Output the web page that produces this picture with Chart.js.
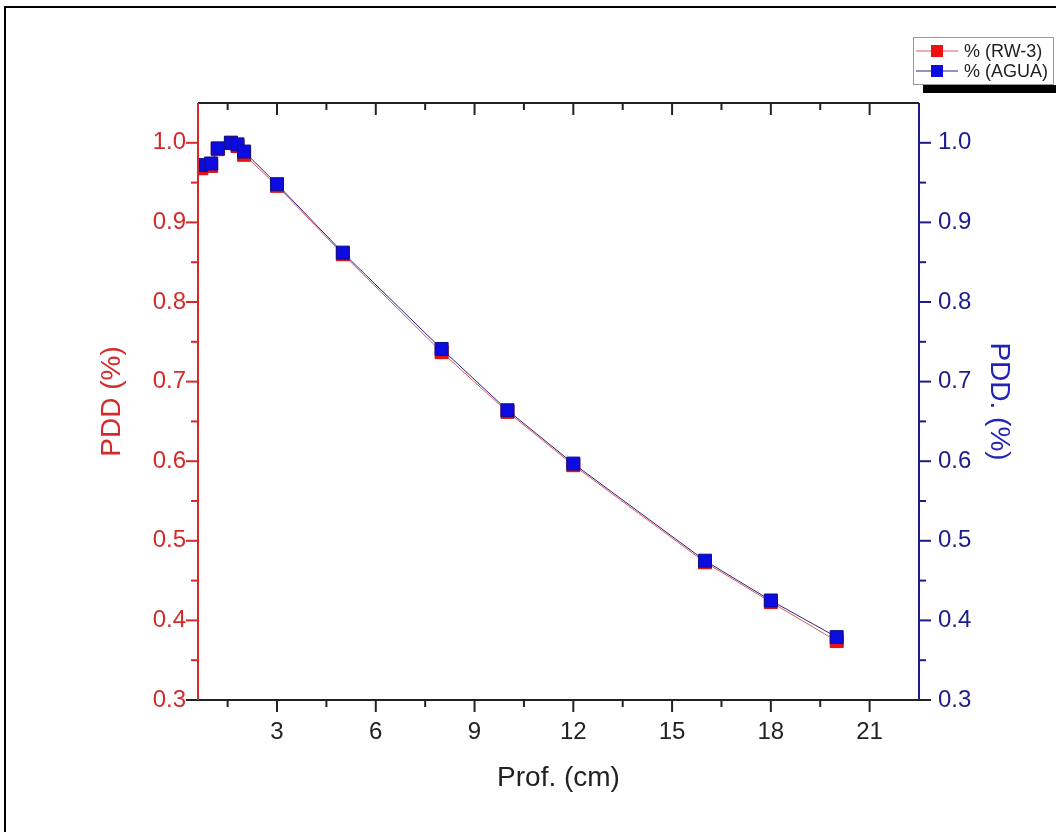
<!DOCTYPE html>
<html>
<head>
<meta charset="utf-8">
<script src="https://cdn.jsdelivr.net/npm/chart.js@4.4.1/dist/chart.umd.min.js"></script>
<style>
  html, body { margin: 0; padding: 0; background: #fff; }
  #frame { position: absolute; left: 4px; top: 6px; width: 1060px; height: 840px;
           border-top: 2px solid #000; border-left: 2px solid #000; }
  #myChart { position: absolute; left: 0; top: 0; }
</style>
</head>
<body>
<div id="frame"></div>
<canvas id="myChart" width="1056" height="832"></canvas>
<script>
// depth (cm) and PDD values
const depth = [0.7, 1.0, 1.2, 1.6, 1.8, 2.0, 3, 5, 8, 10, 12, 16, 18, 20];
const pddRW3 = [0.968, 0.971, 0.992, 1.0, 0.996, 0.985, 0.946, 0.860, 0.737, 0.662, 0.595, 0.473, 0.423, 0.374];
const pddAgua = [0.972, 0.974, 0.993, 1.0, 0.998, 0.989, 0.948, 0.862, 0.741, 0.664, 0.597, 0.475, 0.425, 0.379];
const seriesNames = ["% (RW-3)", "% (AGUA)"];

const xTicks = [3, 6, 9, 12, 15, 18, 21];
const xMinor = [1.5, 4.5, 7.5, 10.5, 13.5, 16.5, 19.5];
const yTicks = [0.3, 0.4, 0.5, 0.6, 0.7, 0.8, 0.9, 1.0];
const yMinor = [0.35, 0.45, 0.55, 0.65, 0.75, 0.85, 0.95];

const RED = "#d42a2a";
const NAVY = "#1c1c8a";
const FONT = "'Liberation Sans', Arial, sans-serif";

const toPoints = ys => depth.map((d, i) => ({ x: d, y: ys[i] }));

// axis lines + Origin style ticks (outward on the bottom/left/right, inward on top)
const frameTicks = {
  id: "frameTicks",
  afterDatasetsDraw(chart) {
    const { ctx, chartArea: a, scales } = chart;
    const sx = scales.x, sy = scales.y, sy2 = scales.y2;
    ctx.save();
    ctx.lineWidth = 2;
    const line = (x1, y1, x2, y2, c) => {
      ctx.strokeStyle = c;
      ctx.beginPath(); ctx.moveTo(x1, y1); ctx.lineTo(x2, y2); ctx.stroke();
    };
    xTicks.concat(xMinor).forEach(v => {
      const len = xTicks.includes(v) ? 12 : 7;
      const px = sx.getPixelForValue(v);
      line(px, a.bottom, px, a.bottom + len, "#222");
      line(px, a.top, px, a.top + len, "#222");
    });
    yTicks.concat(yMinor).forEach(v => {
      const len = yTicks.includes(v) ? 12 : 7;
      line(a.left, sy.getPixelForValue(v), a.left - len, sy.getPixelForValue(v), RED);
      line(a.right, sy2.getPixelForValue(v), a.right + len, sy2.getPixelForValue(v), NAVY);
    });
    line(a.left - 12, a.bottom, a.right + 12, a.bottom, "#222");
    line(a.left, a.top, a.right, a.top, "#222");
    line(a.left, a.top, a.left, a.bottom, RED);
    line(a.right, a.top, a.right, a.bottom, NAVY);
    ctx.restore();
  }
};

// boxed legend with a drop shadow in the top right corner
const boxLegend = {
  id: "boxLegend",
  afterDraw(chart) {
    const ctx = chart.ctx;
    ctx.save();
    ctx.fillStyle = "#000";
    ctx.fillRect(923, 85, 133, 8);
    ctx.fillStyle = "#fff";
    ctx.fillRect(913, 37, 141, 48);
    ctx.strokeStyle = "#999";
    ctx.lineWidth = 1;
    ctx.strokeRect(913.5, 37.5, 140, 47);
    chart.data.datasets.forEach((ds, i) => {
      const y = 51 + i * 20;
      ctx.strokeStyle = ds.borderColor;
      ctx.beginPath(); ctx.moveTo(916, y); ctx.lineTo(958, y); ctx.stroke();
      ctx.fillStyle = ds.pointBackgroundColor;
      ctx.fillRect(931, y - 6, 12, 12);
      ctx.fillStyle = "#222";
      ctx.font = "18px " + FONT;
      ctx.textBaseline = "middle";
      ctx.fillText(ds.label, 964, y + 1);
    });
    ctx.restore();
  }
};

const setTicks = list => scale => { scale.ticks = list.map(v => ({ value: v })); };

const config = {
  type: "scatter",
  data: {
    datasets: [
      {
        label: seriesNames[0],
        data: toPoints(pddRW3),
        yAxisID: "y",
        showLine: true,
        borderColor: "#e05a5a",
        borderWidth: 1,
        pointStyle: "rect",
        pointRadius: 9.2,
        pointBackgroundColor: "#ee1111",
        pointBorderColor: "#d01010",
        pointBorderWidth: 1,
        order: 2
      },
      {
        label: seriesNames[1],
        data: toPoints(pddAgua),
        yAxisID: "y2",
        showLine: true,
        borderColor: "#2a2280",
        borderWidth: 1,
        pointStyle: "rect",
        pointRadius: 9.2,
        pointBackgroundColor: "#0c0ce0",
        pointBorderColor: "#10108a",
        pointBorderWidth: 1,
        order: 1
      }
    ]
  },
  options: {
    responsive: false,
    animation: false,
    layout: { padding: { top: 103, left: 0, right: 0, bottom: 0 } },
    plugins: { legend: { display: false }, tooltip: { enabled: false } },
    scales: {
      x: {
        type: "linear",
        position: "bottom",
        min: 0.6,
        max: 22.5,
        afterBuildTicks: setTicks(xTicks),
        afterFit: s => { s.height = 132; },
        grid: { display: false, drawTicks: false },
        border: { display: false },
        ticks: { color: "#222", padding: 18, font: { family: FONT, size: 24 } },
        title: {
          display: true, text: "Prof. (cm)", color: "#222",
          font: { family: FONT, size: 28 }, padding: { top: 37, bottom: 37 }
        }
      },
      y: {
        type: "linear",
        position: "left",
        min: 0.3,
        max: 1.05,
        afterBuildTicks: setTicks(yTicks),
        afterFit: s => { s.width = 198; },
        grid: { display: false, drawTicks: false },
        border: { display: false },
        ticks: {
          color: RED, padding: 12, font: { family: FONT, size: 24 },
          callback: v => v.toFixed(1)
        },
        title: {
          display: true, text: "PDD (%)", color: RED,
          font: { family: FONT, size: 28 }, padding: { top: 95, bottom: 95 }
        }
      },
      y2: {
        type: "linear",
        position: "right",
        min: 0.3,
        max: 1.05,
        afterBuildTicks: setTicks(yTicks),
        afterFit: s => { s.width = 137; },
        grid: { display: false, drawTicks: false },
        border: { display: false },
        ticks: {
          color: NAVY, padding: 19, font: { family: FONT, size: 24 },
          callback: v => v.toFixed(1)
        },
        title: {
          display: true, text: "PDD. (%)", color: "#2323b8",
          font: { family: FONT, size: 28 }, padding: { top: 40, bottom: 40 }
        }
      }
    }
  },
  plugins: [frameTicks, boxLegend]
};

document.addEventListener("DOMContentLoaded", function () {
  new Chart(document.getElementById("myChart"), config);
});
</script>
</body>
</html>
